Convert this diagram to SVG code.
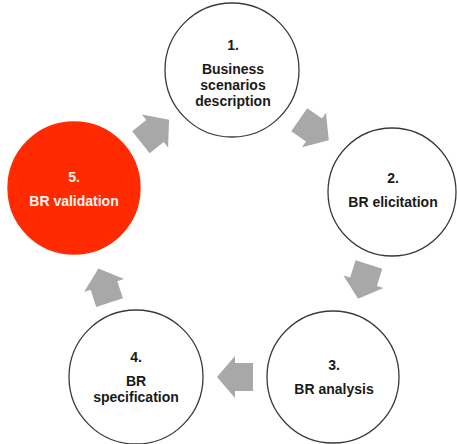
<svg xmlns="http://www.w3.org/2000/svg" xmlns:xlink="http://www.w3.org/1999/xlink" width="457" height="444" viewBox="0 0 457 444">
  <style>
    .step { fill: #ffffff; stroke: #3a3a3a; stroke-width: 1.3; }
    .active { fill: #ff2a00; stroke: #ff2a00; stroke-width: 1.3; }
    .num, .label { font-family: "Liberation Sans", Arial, sans-serif; font-weight: bold; font-size: 14px; text-anchor: middle; fill: #1a1a1a; }
    .active-text { fill: #fff4f0; }
    .flow { fill: #a8a8a8; }
  </style>
  <defs>
    <!-- block arrow pointing along +x, centred on the origin -->
    <polygon id="block-arrow" points="18,0 0,-21 0,-14 -18,-14 -18,14 0,14 0,21"/>
  </defs>
  <rect width="457" height="444" fill="#ffffff"/>

  <g id="connectors" class="flow">
    <use xlink:href="#block-arrow" transform="translate(155,131) rotate(-38.6)"/>
    <use xlink:href="#block-arrow" transform="translate(314,130) rotate(34.8)"/>
    <use xlink:href="#block-arrow" transform="translate(363.5,281.7) rotate(107.5)"/>
    <use xlink:href="#block-arrow" transform="translate(235,377) rotate(180)"/>
    <use xlink:href="#block-arrow" transform="translate(104,285.5) rotate(-108)"/>
  </g>

  <g id="step1">
    <circle class="step" cx="232" cy="70" r="67"/>
    <text class="num" x="233" y="50">1.</text>
    <text class="label" x="233" y="74">Business</text>
    <text class="label" x="233" y="90">scenarios</text>
    <text class="label" x="233" y="106">description</text>
  </g>

  <g id="step2">
    <circle class="step" cx="392" cy="192" r="64"/>
    <text class="num" x="393" y="183">2.</text>
    <text class="label" x="393" y="207">BR elicitation</text>
  </g>

  <g id="step3">
    <circle class="step" cx="333" cy="377" r="66"/>
    <text class="num" x="334" y="370">3.</text>
    <text class="label" x="334" y="394">BR analysis</text>
  </g>

  <g id="step4">
    <circle class="step" cx="136" cy="377" r="67"/>
    <text class="num" x="136" y="362">4.</text>
    <text class="label" x="136" y="386">BR</text>
    <text class="label" x="136" y="402">specification</text>
  </g>

  <g id="step5">
    <circle class="active" cx="74" cy="188" r="66"/>
    <text class="num active-text" x="74" y="182">5.</text>
    <text class="label active-text" x="74" y="206">BR validation</text>
  </g>
</svg>
